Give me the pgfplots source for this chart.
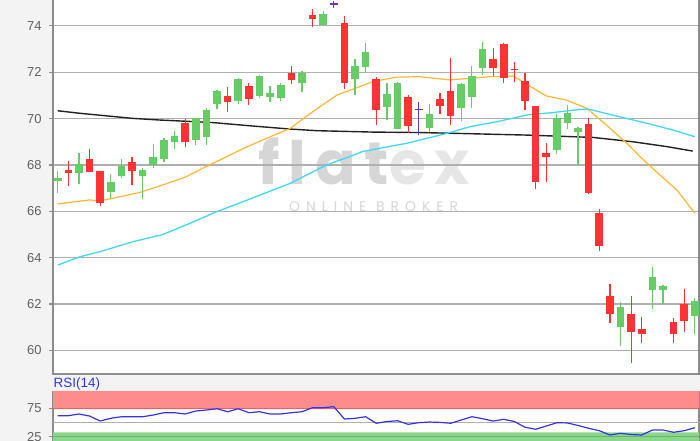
\documentclass[border=0pt]{standalone}
\usepackage{pgfplots}
\usepackage{pgfplotstable}
\usepackage{fontspec}
\setmainfont{Liberation Sans}
\newfontfamily\wmfont{Poppins}[BoldFont={* Bold}]
\pgfplotsset{compat=1.18}
\definecolor{bggray}{HTML}{F3F3F3}
\definecolor{gridc}{HTML}{B0B0B0}
\definecolor{axc}{HTML}{8C8C8C}
\definecolor{cgreen}{HTML}{66CC66}
\definecolor{cred}{HTML}{FF3333}
\definecolor{cpurple}{HTML}{6633CC}
\definecolor{corange}{HTML}{FFB733}
\definecolor{ccyan}{HTML}{40D8F8}
\definecolor{cblack}{HTML}{222222}
\definecolor{rsiblue}{HTML}{3333EE}
\definecolor{bandred}{HTML}{FF8C8C}
\definecolor{bandredd}{HTML}{E06666}
\definecolor{bandgreen}{HTML}{8BD68B}
\definecolor{bandgreend}{HTML}{66B866}
\definecolor{wm1}{HTML}{D6D6D6}
\definecolor{wm2}{HTML}{E6E6E6}

\pgfplotstableread{
i O H L C
0 67.32 67.72 66.80 67.45
2 67.66 68.50 67.20 68.03
5 66.85 67.60 66.56 67.28
6 67.53 68.25 67.43 67.97
8 67.54 67.86 66.52 67.79
9 68.00 68.91 67.86 68.36
10 68.25 69.18 68.14 69.08
11 69.00 69.47 68.69 69.27
13 69.08 70.02 68.86 70.01
14 69.22 70.45 68.86 70.37
15 70.62 71.22 70.40 71.19
17 70.76 71.77 70.65 71.71
19 70.99 71.89 70.88 71.84
20 70.95 71.42 70.73 71.10
21 70.88 71.53 70.76 71.45
23 71.53 72.06 71.17 71.98
25 74.04 74.66 74.00 74.52
28 71.70 72.56 71.02 72.27
29 72.24 73.28 71.96 72.89
31 70.49 71.53 69.94 71.07
32 69.54 71.60 69.54 71.53
35 69.58 70.63 69.44 70.19
38 70.45 71.55 69.91 71.50
39 70.95 72.27 70.45 71.86
40 72.17 73.32 71.89 72.99
47 68.65 70.20 68.47 70.02
48 69.83 70.59 69.54 70.23
49 69.44 69.64 68.00 69.61
53 61.02 62.10 60.19 61.86
56 62.60 63.58 61.77 63.16
57 62.61 62.80 62.00 62.78
60 61.48 62.24 60.70 62.13
}\greentab

\pgfplotstableread{
i O H L C
1 67.79 68.17 67.11 67.64
3 68.25 68.70 67.68 67.70
4 67.74 67.76 66.23 66.35
7 68.12 68.36 67.14 67.76
12 69.80 69.99 68.76 68.98
16 70.98 71.35 70.27 70.73
18 71.41 71.53 70.59 70.84
22 71.96 72.29 71.48 71.67
24 74.47 74.72 73.97 74.30
27 74.12 74.43 71.27 71.55
30 71.70 71.81 69.73 70.37
33 70.92 71.02 69.37 69.69
36 70.85 71.10 70.20 70.56
37 71.19 72.60 69.73 70.12
41 72.58 73.04 71.84 72.20
42 73.21 73.28 71.55 71.74
43 72.14 72.46 71.60 72.09
44 71.64 71.97 70.37 70.78
45 70.55 70.56 66.95 67.28
46 68.53 68.96 67.28 68.36
50 69.76 70.02 66.75 66.81
51 65.94 66.09 64.29 64.50
52 62.36 62.86 61.20 61.56
54 61.57 62.33 59.47 60.81
55 60.91 61.45 60.30 60.71
58 61.24 61.41 60.30 60.71
59 62.00 62.63 60.81 61.27
}\redtab

\pgfplotstableread{
i O H L C
26 74.95 75.08 74.76 74.95
34 70.40 70.73 69.29 70.40
}\dojitab

\pgfplotstableread{
i rsi
0 62.3
1 62.3
2 65.3
3 61.7
4 52.9
5 57.7
6 60.5
7 60.5
8 60.5
9 63.5
10 67.6
11 67.6
12 65.3
13 70.6
14 72.3
15 74.6
16 69.3
17 74.6
18 67.6
19 69.3
20 65.3
21 65.3
22 67.6
23 69.3
24 76.4
25 76.4
26 78.2
27 56.4
28 57.7
29 60.5
30 48.9
31 52.0
32 53.4
33 47.1
34 50.0
35 51.1
36 50.5
37 48.9
38 54.7
39 60.5
40 57.0
41 52.9
42 55.9
43 52.0
44 42.0
45 38.3
46 44.0
47 49.9
48 49.5
49 45.0
50 40.0
51 35.8
52 28.2
53 31.2
54 29.0
55 28.2
56 37.0
57 37.0
58 33.0
59 35.8
60 41.1
}\rsitab

\pgfplotsset{
  candle/.style={draw=none, mark=none, forget plot,
    error bars/.cd, y dir=plus, y explicit, error mark=none,
    error bar style={draw=#1, line width=1.2bp}},
  body/.style={draw=none, mark=none, forget plot,
    error bars/.cd, y dir=plus, y explicit, error mark=none,
    error bar style={draw=#1, line width=7.6bp}},
}

\begin{document}
\begin{tikzpicture}[x=1bp,y=1bp]
\fill[bggray] (0,0) rectangle (700,441);
\fill[white] (53,67) rectangle (699,445);
\fill[white] (53,-3) rectangle (699,49);
% watermark
\node[anchor=base west, inner sep=0pt, font=\wmfont\bfseries\fontsize{60}{60}\selectfont\addfontfeature{LetterSpace=15}] at (258,256) {\textcolor{wm1}{flat}\textcolor{wm2}{ex}};
\node[anchor=base west, inner sep=0pt, font=\wmfont\fontsize{14}{14}\selectfont\addfontfeature{LetterSpace=43}, text=wm1] at (289,229) {ONLINE BROKER};

\begin{axis}[
  name=mainax,
  at={(53bp,67bp)}, anchor=south west,
  width=646bp, height=377bp, scale only axis,
  xmin=-0.443, xmax=60.39, ymin=58.98, ymax=75.25,
  xtick=\empty, ytick={60,62,...,74},
  ytick pos=left, tick align=outside, major tick length=4bp,
  ymajorgrids, grid style={gridc, line width=1.1bp},
  axis line style={axc, line width=1.4bp},
  tick style={axc, line width=1.1bp},
  yticklabel style={font=\fontsize{13}{13}\selectfont, text=black!62, xshift=-4bp},
  /pgf/number format/assume math mode=true,
  clip=true,
]
% moving averages
\addplot[cblack, line width=1.4bp, mark=none] coordinates {(0,70.34)(2.1,70.23)(4.6,70.12)(7.1,70.01)(9.6,69.94)(11.5,69.9)(14.6,69.83)(18.4,69.68)(21.9,69.55)(24.4,69.48)(29.7,69.42)(34.1,69.4)(37.9,69.36)(44.2,69.29)(50.4,69.19)(54.2,69.0)(57.4,68.79)(59.8,68.6)};
\addplot[corange, line width=1.2bp, mark=none] coordinates {(0,66.32)(3,66.49)(4,66.45)(7.7,66.81)(9.9,67.14)(12,67.47)(14.1,67.96)(15.3,68.22)(17.2,68.65)(19.3,69.08)(21.9,69.58)(23.8,70.23)(26.3,71.02)(27.8,71.27)(29.7,71.6)(31.9,71.79)(34.1,71.81)(36.9,71.67)(40.7,71.81)(42.9,71.84)(44,71.53)(46,70.98)(47.9,70.8)(49.8,70.45)(51.3,69.87)(53.6,68.94)(55,68.29)(56.7,67.57)(58.3,66.92)(60,65.92)};
\addplot[ccyan, line width=1.3bp, mark=none] coordinates {(0,63.68)(2.1,64.04)(4,64.26)(7.1,64.69)(9.9,65.0)(12.8,65.55)(15,65.99)(17.2,66.37)(19.1,66.71)(21.9,67.21)(25.3,68.0)(27.5,68.36)(28.7,68.58)(32.9,68.94)(36.7,69.37)(38.8,69.65)(41.4,69.87)(44.2,70.16)(46.6,70.26)(49.2,70.4)(50.1,70.4)(52.9,70.08)(55.5,69.8)(57.9,69.51)(60,69.22)};
% wicks
\addplot[candle=cgreen] table[x=i, y=L, y error expr=\thisrow{H}-\thisrow{L}] {\greentab};
\addplot[candle=cred] table[x=i, y=L, y error expr=\thisrow{H}-\thisrow{L}] {\redtab};
\addplot[candle=cpurple] table[x=i, y=L, y error expr=\thisrow{H}-\thisrow{L}] {\dojitab};
% bodies
\addplot[body=cgreen] table[x=i, y=O, y error expr=\thisrow{C}-\thisrow{O}] {\greentab};
\addplot[body=cred] table[x=i, y=C, y error expr=\thisrow{O}-\thisrow{C}] {\redtab};
\addplot[only marks, mark=-, mark size=3.8bp, mark options={draw=cpurple, line width=1.3bp}] table[x=i, y=C] {\dojitab};
\end{axis}

\node[anchor=west, inner sep=0pt, text=rsiblue, font=\fontsize{13.5}{13.5}\selectfont] at (53.5,57) {RSI(14)};

\begin{axis}[
  name=rsiax,
  at={(53bp,-3bp)}, anchor=south west,
  width=646bp, height=52bp, scale only axis,
  xmin=-0.443, xmax=60.39, ymin=12.3, ymax=104.2,
  xtick=\empty, ytick={25,75},
  ytick pos=left, tick align=outside, major tick length=4bp,
  axis line style={axc, line width=1.4bp},
  tick style={axc, line width=1.1bp},
  yticklabel style={font=\fontsize{13}{13}\selectfont, text=black!62, xshift=-4bp},
  /pgf/number format/assume math mode=true,
  clip=true,
]
\addplot[draw=none, fill=bandred, forget plot] coordinates {(-1,74)(61,74)(61,110)(-1,110)} \closedcycle;
\addplot[draw=none, fill=bandgreen, forget plot] coordinates {(-1,0)(61,0)(61,33)(-1,33)} \closedcycle;
\addplot[bandredd, line width=1.1bp, forget plot] coordinates {(-1,75)(61,75)};
\addplot[bandgreend, line width=1.1bp, forget plot] coordinates {(-1,25)(61,25)};
\addplot[gridc, line width=1.1bp, forget plot] coordinates {(-1,50)(61,50)};
\addplot[rsiblue, line width=1.2bp, mark=none] table[x=i, y=rsi] {\rsitab};
\end{axis}

\pgfresetboundingbox
\path[use as bounding box] (0,0) rectangle (700,441);
\end{tikzpicture}
\end{document}
